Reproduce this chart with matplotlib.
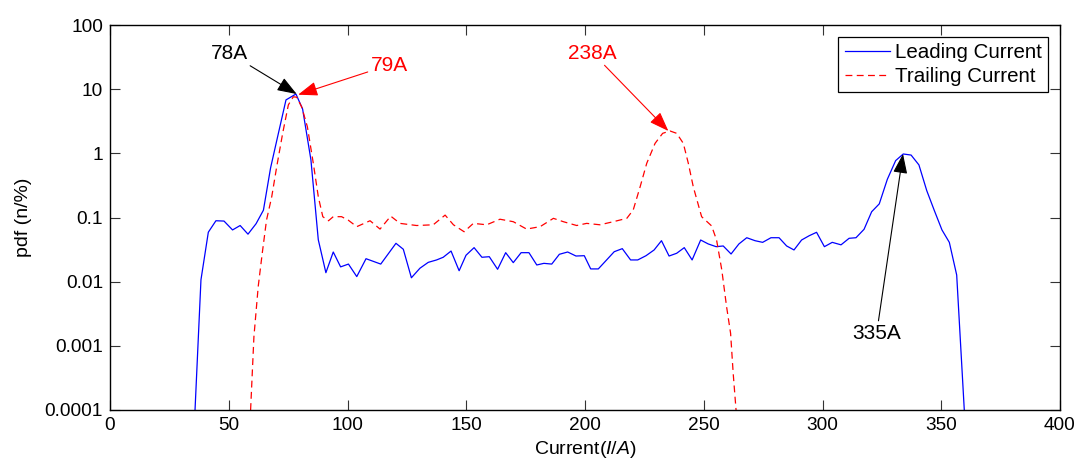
import matplotlib
matplotlib.use("Agg")
import matplotlib.pyplot as plt
from matplotlib.ticker import FixedLocator, FixedFormatter, NullLocator

# Leading current pdf
lead_x = [35.8, 38.3, 41.4, 44.6, 48.0, 51.6, 54.8, 58.1, 61.5, 64.6,
          67.6, 70.9, 74.1, 78.3, 81.1, 84.6, 87.7, 90.9, 94.0, 97.1,
          100.4, 103.9, 107.8, 114.0, 120.4, 123.5, 126.9, 130.5, 134.0, 137.5,
          140.3, 143.6, 147.0, 149.9, 153.3, 156.6, 159.7, 163.2, 166.6, 169.8,
          173.1, 176.4, 179.7, 182.7, 186.0, 189.2, 192.7, 196.2, 199.7, 202.4,
          205.6, 209.1, 212.3, 215.7, 219.2, 222.2, 225.7, 229.1, 232.2, 235.4,
          238.6, 241.8, 245.1, 248.7, 251.9, 255.2, 258.2, 261.5, 264.8, 268.1,
          271.6, 274.8, 278.3, 281.7, 284.9, 288.0, 291.2, 294.4, 297.5, 300.8,
          304.1, 307.8, 311.2, 314.1, 317.5, 320.7, 323.9, 327.3, 330.8, 334.0,
          337.3, 340.6, 343.9, 347.1, 350.3, 353.4, 356.5, 359.7]
lead_y = [1e-4, 0.0107, 0.059, 0.089, 0.088, 0.064, 0.075, 0.055, 0.08, 0.13,
          0.59, 2.05, 6.8, 8.4, 4.9, 0.79, 0.045, 0.0138, 0.029, 0.017,
          0.0188, 0.012, 0.0228, 0.0188, 0.0396, 0.032, 0.0115, 0.0162, 0.020, 0.0218,
          0.024, 0.030, 0.0148, 0.0258, 0.0339, 0.024, 0.0245, 0.0156, 0.0283, 0.0198,
          0.0283, 0.0283, 0.0182, 0.0193, 0.0188, 0.0267, 0.029, 0.0251, 0.0254, 0.0158,
          0.0158, 0.0218, 0.0293, 0.0327, 0.0218, 0.0218, 0.0254, 0.0312, 0.0435, 0.0251,
          0.0277, 0.0339, 0.0218, 0.0446, 0.0387, 0.0351, 0.036, 0.027, 0.0387, 0.0484,
          0.0435, 0.041, 0.0484, 0.0484, 0.036, 0.0312, 0.0446, 0.052, 0.0588, 0.0351,
          0.041, 0.0375, 0.0474, 0.0484, 0.0655, 0.123, 0.163, 0.394, 0.77, 0.977,
          0.94, 0.66, 0.262, 0.128, 0.064, 0.041, 0.0127, 1e-4]

# Trailing current pdf
trail_x = [59.2, 60.6, 62.4, 64.1, 65.9, 68.1, 70.2, 72.7, 75.1, 77.2,
           78.6, 80.7, 83.1, 85.6, 87.7, 89.6, 92.0, 94.0, 97.5, 100.3,
           103.9, 109.5, 113.7, 118.2, 122.1, 129.1, 136.1, 141.1, 144.6, 149.1,
           153.0, 158.6, 164.2, 169.8, 175.4, 181.1, 186.7, 190.9, 196.5, 200.7,
           206.3, 211.9, 217.6, 220.3, 223.2, 226.0, 229.5, 232.7, 235.8, 238.6,
           241.4, 243.5, 245.6, 249.1, 253.3, 255.4, 257.6, 259.6, 261.3, 262.4, 263.6]
trail_y = [1e-4, 0.00139, 0.00836, 0.0277, 0.091, 0.211, 0.62, 2.05, 5.7, 7.6,
           7.5, 5.3, 2.6, 0.70, 0.211, 0.103, 0.089, 0.103, 0.103, 0.091,
           0.072, 0.089, 0.066, 0.105, 0.081, 0.075, 0.077, 0.109, 0.077, 0.060,
           0.081, 0.077, 0.094, 0.086, 0.066, 0.072, 0.097, 0.086, 0.075, 0.081,
           0.077, 0.086, 0.097, 0.131, 0.30, 0.70, 1.43, 2.05, 2.23, 2.05,
           1.43, 0.70, 0.30, 0.103, 0.074, 0.0446, 0.0152, 0.0041, 0.00157, 0.00037, 1e-4]

x_ticks = [0, 50, 100, 150, 200, 250, 300, 350, 400]
y_ticks = [1e-4, 1e-3, 1e-2, 1e-1, 1, 10, 100]
y_tick_labels = ["0.0001", "0.001", "0.01", "0.1", "1", "10", "100"]

# annotations: (label, text position, arrow tip, colour)
notes = [
    ("78A", (50.5, 36.0), (78.6, 8.4), "black"),
    ("79A", (117.5, 23.8), (79.2, 8.2), "red"),
    ("238A", (203.2, 36.6), (235.1, 2.23), "red"),
    ("335A", (322.8, 0.00158), (333.9, 0.977), "black"),
]

plt.rcParams["font.family"] = ["Liberation Sans", "DejaVu Sans"]
plt.rcParams["mathtext.fontset"] = "custom"
plt.rcParams["mathtext.rm"] = "Liberation Sans"
plt.rcParams["mathtext.it"] = "Liberation Sans:italic"

fig = plt.figure(figsize=(10.77, 4.59), dpi=100)
ax = fig.add_axes([110 / 1077, 49 / 459, 950 / 1077, 385 / 459])

ax.plot(lead_x, lead_y, color="#0000ff", linewidth=0.9, label="Leading Current")
ax.plot(trail_x, trail_y, color="#ff0000", linewidth=0.9, linestyle=(0, (5.5, 3.5)),
        label="Trailing Current")

ax.set_yscale("log")
ax.set_xlim(0, 400)
ax.set_ylim(1e-4, 100)
ax.xaxis.set_major_locator(FixedLocator(x_ticks))
ax.yaxis.set_major_locator(FixedLocator(y_ticks))
ax.yaxis.set_major_formatter(FixedFormatter(y_tick_labels))
ax.yaxis.set_minor_locator(NullLocator())
ax.tick_params(which="major", direction="in", length=7, width=0.8, labelsize=13.7,
               top=True, right=True, pad=5, color="#333333")
for s in ax.spines.values():
    s.set_linewidth(1.0)

ax.set_xlabel("Current($\\mathit{I/A}$)", fontsize=14)
ax.set_ylabel("pdf (n/%)", fontsize=14)
ax.xaxis.set_label_coords(0.5, -0.075)
ax.yaxis.set_label_coords(-0.082, 0.5)

for label, xytext, xy, col in notes:
    ax.annotate(label, xy=xy, xytext=xytext, color=col, fontsize=15,
                ha="center", va="center",
                arrowprops=dict(arrowstyle="-|>,head_length=0.6,head_width=0.22",
                                color=col, lw=0.8, shrinkA=0, shrinkB=0,
                                mutation_scale=20))

leg = ax.legend(loc="upper right", bbox_to_anchor=(0.9874, 0.9688), borderaxespad=0,
                fontsize=14.8, fancybox=False, framealpha=1, edgecolor="black",
                handlelength=2.2, handletextpad=0.25, labelspacing=0.25,
                borderpad=0.3)
leg.get_frame().set_linewidth(0.9)

fig.savefig("out.png", dpi=100)
